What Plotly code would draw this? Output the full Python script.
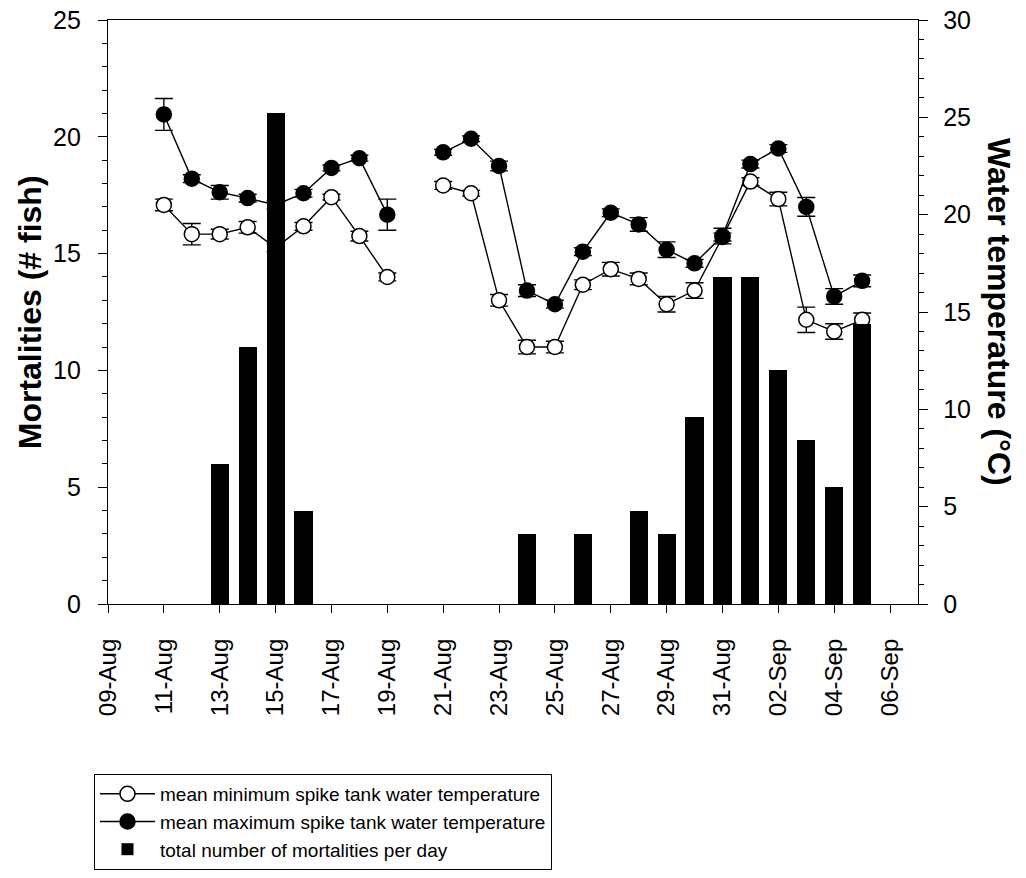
import plotly.graph_objects as go

# Daily spike-tank water temperatures (°C); 20-Aug has no reading
temp_dates = [
    "2009-08-11", "2009-08-12", "2009-08-13", "2009-08-14", "2009-08-15",
    "2009-08-16", "2009-08-17", "2009-08-18", "2009-08-19", "2009-08-20",
    "2009-08-21", "2009-08-22", "2009-08-23", "2009-08-24", "2009-08-25",
    "2009-08-26", "2009-08-27", "2009-08-28", "2009-08-29", "2009-08-30",
    "2009-08-31", "2009-09-01", "2009-09-02", "2009-09-03", "2009-09-04",
    "2009-09-05",
]
min_temp = [
    20.5, 19.0, 19.0, 19.35, 18.3, 19.4, 20.9, 18.9, 16.8, None,
    21.5, 21.1, 15.6, 13.2, 13.2, 16.4, 17.2, 16.7, 15.4, 16.1,
    18.85, 21.7, 20.8, 14.6, 14.0, 14.6,
]
min_err = [
    0.3, 0.55, 0.25, 0.3, 0.2, 0.2, 0.15, 0.25, 0.2, None,
    0.2, 0.15, 0.3, 0.35, 0.3, 0.25, 0.35, 0.3, 0.4, 0.4,
    0.2, 0.2, 0.35, 0.65, 0.4, 0.35,
]
max_temp = [
    25.15, 21.85, 21.15, 20.85, 20.5, 21.1, 22.4, 22.9, 20.0, None,
    23.2, 23.9, 22.5, 16.1, 15.4, 18.1, 20.1, 19.5, 18.2, 17.5,
    18.9, 22.6, 23.4, 20.4, 15.8, 16.6,
]
max_err = [
    0.82, 0.2, 0.35, 0.2, 0.2, 0.2, 0.15, 0.15, 0.8, None,
    0.15, 0.15, 0.25, 0.3, 0.2, 0.2, 0.2, 0.35, 0.4, 0.2,
    0.4, 0.2, 0.2, 0.48, 0.4, 0.3,
]

# Total fish mortalities per day
mort_dates = [
    "2009-08-13", "2009-08-14", "2009-08-15", "2009-08-16", "2009-08-24",
    "2009-08-26", "2009-08-28", "2009-08-29", "2009-08-30", "2009-08-31",
    "2009-09-01", "2009-09-02", "2009-09-03", "2009-09-04", "2009-09-05",
]
mortalities = [6, 11, 21, 4, 3, 3, 4, 3, 8, 14, 14, 10, 7, 5, 12]

DAY_MS = 86400000
FONT = "Liberation Sans, Arial, sans-serif"

fig = go.Figure()

fig.add_trace(go.Scatter(
    x=temp_dates, y=min_temp, yaxis="y",
    name="mean minimum spike tank water temperature",
    mode="lines+markers",
    line=dict(color="black", width=1.4),
    marker=dict(symbol="circle", size=15, color="white",
                line=dict(color="black", width=1.5)),
    error_y=dict(type="data", array=min_err, visible=True,
                 color="black", thickness=1.4, width=9),
    connectgaps=False,
))
fig.add_trace(go.Scatter(
    x=temp_dates, y=max_temp, yaxis="y",
    name="mean maximum spike tank water temperature",
    mode="lines+markers",
    line=dict(color="black", width=1.4),
    marker=dict(symbol="circle", size=15, color="black",
                line=dict(color="black", width=1.5)),
    error_y=dict(type="data", array=max_err, visible=True,
                 color="black", thickness=1.4, width=9),
    connectgaps=False,
))
# bars live on the overlaying axis so they sit above the temperature lines
fig.add_trace(go.Bar(
    x=mort_dates, y=mortalities, yaxis="y2",
    name="total number of mortalities per day",
    marker=dict(color="black", line=dict(width=0)),
    width=0.65 * DAY_MS,
))

fig.update_layout(
    width=1026, height=878,
    template="none",
    paper_bgcolor="white", plot_bgcolor="white",
    margin=dict(l=108, r=108, t=20, b=274, autoexpand=False),
    font=dict(family=FONT, color="black", size=25),
    showlegend=True,
    legend=dict(
        x=-0.0173, y=-0.291, xanchor="left", yanchor="top",
        bordercolor="black", borderwidth=1, bgcolor="white",
        font=dict(family=FONT, size=19, color="black"),
        traceorder="normal", itemwidth=55, tracegroupgap=0,
    ),
    xaxis=dict(
        type="date",
        range=["2009-08-09", "2009-09-07"],
        tick0="2009-08-09", dtick=2 * DAY_MS,
        tickformat="%d-%b", tickangle=-90,
        ticks="outside", ticklen=8, tickwidth=1.3, tickcolor="black",
        showline=True, linecolor="black", linewidth=1.3, mirror=True,
        showgrid=False, zeroline=False,
        tickfont=dict(family=FONT, size=24),
        ticklabelstandoff=16,
    ),
    yaxis=dict(
        side="right", range=[0, 30], dtick=5, tick0=0,
        ticks="outside", ticklen=9, tickwidth=1.3, tickcolor="black",
        minor=dict(dtick=1, ticks="outside", ticklen=5, tickwidth=1.3,
                   tickcolor="black", showgrid=False),
        showline=True, linecolor="black", linewidth=1.3,
        showgrid=False, zeroline=False,
        tickfont=dict(family=FONT, size=25),
        ticklabelstandoff=10,
    ),
    yaxis2=dict(
        overlaying="y", side="left", range=[0, 25], dtick=5, tick0=0,
        ticks="outside", ticklen=9, tickwidth=1.3, tickcolor="black",
        minor=dict(dtick=1, ticks="outside", ticklen=5, tickwidth=1.3,
                   tickcolor="black", showgrid=False),
        showline=True, linecolor="black", linewidth=1.3,
        showgrid=False, zeroline=False,
        tickfont=dict(family=FONT, size=25),
        ticklabelstandoff=12,
    ),
    annotations=[
        dict(text="<b>Mortalities (# fish)</b>", xref="paper", yref="paper",
             x=-0.096, y=0.5, xanchor="center", yanchor="middle",
             textangle=-90, showarrow=False,
             font=dict(family=FONT, size=32, color="black")),
        dict(text="<b>Water temperature (°C)</b>", xref="paper", yref="paper",
             x=1.1, y=0.5, xanchor="center", yanchor="middle",
             textangle=90, showarrow=False,
             font=dict(family=FONT, size=32, color="black")),
    ],
    bargap=0,
)

fig.write_html("out.html")
